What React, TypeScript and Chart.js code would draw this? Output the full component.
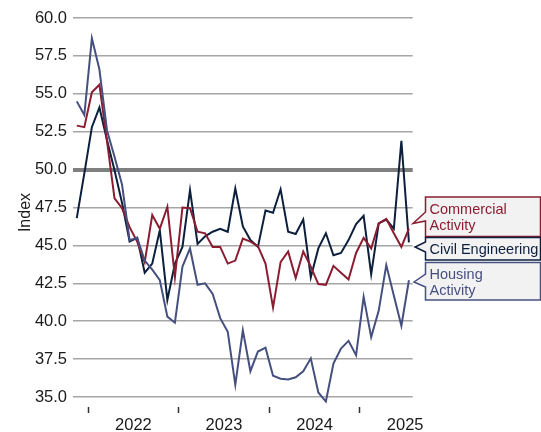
import React, { useEffect, useRef } from 'react';
import { Chart, registerables } from 'chart.js';

Chart.register(...registerables);

// Monthly observations, Nov 2021 .. Jul 2025
const firstMonthOffset = -1.5; // mid-Nov 2021, in months from 1 Jan 2022

const commercial = [
  52.9, 52.8, 55.1, 55.6, 51.9, 48.1, 47.45, 46.2, 45.25, 43.9, 47.0, 46.1,
  47.55, 42.9, 47.5, 47.45, 45.9, 45.8, 44.9, 44.9, 43.8, 44.0, 45.45, 45.25,
  44.95, 43.8, 40.9, 43.9, 44.6, 42.85, 44.6, 43.6, 42.45, 42.4, 43.65, 43.2,
  42.75, 44.5, 45.5, 44.8, 46.45, 46.75, 45.8, 44.9, 46.1,
];

const civil = [
  46.8, 49.75, 52.8, 54.1, 51.95, 49.95, 47.8, 45.25, 45.5, 43.2, 43.8, 46.0,
  41.4, 43.8, 44.9, 48.65, 45.1, 45.6, 45.9, 46.1, 45.9, 48.75, 46.25, 45.35,
  44.9, 47.3, 47.15, 48.7, 45.9, 45.75, 46.7, 42.9, 44.8, 45.8, 44.35, 44.5,
  45.35, 46.4, 46.95, 43.1, 46.45, 46.7, 46.1, 51.9, 45.2,
];

const housing = [
  54.5, 53.6, 58.66, 56.6, 52.6, 50.85, 49.0, 45.35, 45.5, 44.0, 43.4, 42.7,
  40.3, 39.9, 43.6, 44.8, 42.4, 42.5, 41.8, 40.2, 39.3, 35.8, 39.4, 36.7,
  38.0, 38.25, 36.4, 36.2, 36.15, 36.3, 36.7, 37.55, 35.3, 34.7, 37.2, 38.2,
  38.7, 37.75, 41.6, 38.95, 40.7, 43.7, 41.7, 39.7, 42.7,
];

const yearLabels = ['2022', '2023', '2024', '2025'];
const yTickValues = [35, 37.5, 40, 42.5, 45, 47.5, 50, 52.5, 55, 57.5, 60];

const seriesNames = ['Commercial Activity', 'Civil Engineering', 'Housing Activity'];
const seriesColors = ['#8b1c31', '#0c1f3d', '#46507f'];

const FONT = "'Liberation Sans', Arial, Helvetica, sans-serif";

const toPoints = (arr: number[]) =>
  arr.map((v, i) => ({ x: i + firstMonthOffset, y: v }));

const boundaryTicks = yearLabels.map((_, k) => k * 12);
const labelTicks = yearLabels.map((_, k) => k * 12 + 6);

// callout label boxes (layout only)
const callouts = [
  { lines: ['Commercial', 'Activity'], color: seriesColors[0], x0: 425.5, x1: 540.5, y0: 197, y1: 236.5, n1: 212, n2: 221, tx: 413, ty: 223.5, textY: [209.5, 225.5] },
  { lines: ['Civil Engineering'], color: seriesColors[1], x0: 425.5, x1: 540.5, y0: 237.5, y1: 260, n1: 242, n2: 252, tx: 415, ty: 247, textY: [249.5] },
  { lines: ['Housing', 'Activity'], color: seriesColors[2], x0: 425.5, x1: 540.5, y0: 262.5, y1: 300, n1: 274, n2: 287, tx: 414, ty: 282, textY: [274.5, 290.5] },
];

const calloutPlugin = {
  id: 'callouts',
  afterDraw(chart: any) {
    const ctx = chart.ctx as CanvasRenderingContext2D;
    callouts.forEach((c) => {
      ctx.save();
      ctx.beginPath();
      ctx.moveTo(c.x0, c.y0);
      ctx.lineTo(c.x1, c.y0);
      ctx.lineTo(c.x1, c.y1);
      ctx.lineTo(c.x0, c.y1);
      ctx.lineTo(c.x0, c.n2);
      ctx.lineTo(c.tx, c.ty);
      ctx.lineTo(c.x0, c.n1);
      ctx.closePath();
      ctx.fillStyle = '#f2f2f3';
      ctx.fill();
      ctx.strokeStyle = c.color;
      ctx.lineWidth = 1.5;
      ctx.stroke();
      ctx.fillStyle = c.color;
      ctx.font = `14.5px ${FONT}`;
      ctx.textAlign = 'left';
      ctx.textBaseline = 'middle';
      c.lines.forEach((t, i) => ctx.fillText(t, 429.5, c.textY[i]));
      ctx.restore();
    });
  },
};

export default function App() {
  const ref = useRef<HTMLCanvasElement>(null);

  useEffect(() => {
    document.body.style.margin = '0';
    const datasets = [commercial, civil, housing].map((arr, i) => ({
      label: seriesNames[i],
      data: toPoints(arr),
      borderColor: seriesColors[i],
      backgroundColor: seriesColors[i],
      borderWidth: 2,
      pointRadius: 0,
      tension: 0,
      fill: false,
    }));
    // draw order: housing, commercial, civil on top
    const ordered = [datasets[2], datasets[0], datasets[1]];

    const chart = new Chart(ref.current as HTMLCanvasElement, {
      type: 'line',
      data: { datasets: ordered },
      options: {
        animation: false,
        responsive: false,
        maintainAspectRatio: false,
        layout: { padding: { top: 18, right: 128.3, left: 0, bottom: 0 } },
        plugins: { legend: { display: false }, tooltip: { enabled: false } },
        scales: {
          x: {
            type: 'linear',
            min: -2,
            max: 43,
            afterBuildTicks: (s: any) => {
              s.ticks = [...boundaryTicks, ...labelTicks]
                .sort((a, b) => a - b)
                .map((v) => ({ value: v }));
            },
            afterFit: (s: any) => {
              s.height = 25;
            },
            border: { display: false },
            grid: {
              drawOnChartArea: false,
              drawTicks: true,
              tickLength: 6,
              tickWidth: 1.5,
              tickColor: (ctx: any) =>
                ctx.tick && ctx.tick.value % 12 === 0 ? '#333333' : 'rgba(0,0,0,0)',
            },
            ticks: {
              autoSkip: false,
              maxRotation: 0,
              minRotation: 0,
              padding: 3,
              color: '#1a1a1a',
              font: { family: FONT, size: 16.5 },
              callback: (v: any) => {
                const k = labelTicks.indexOf(Number(v));
                return k >= 0 ? yearLabels[k] : '';
              },
            },
          },
          y: {
            min: 34.34,
            max: 60,
            afterBuildTicks: (s: any) => {
              s.ticks = yTickValues.map((v) => ({ value: v }));
            },
            afterFit: (s: any) => {
              s.width = 73;
            },
            border: { display: false },
            grid: {
              drawTicks: false,
              color: (ctx: any) => (ctx.tick && ctx.tick.value === 50 ? '#808080' : '#a6a6a6'),
              lineWidth: (ctx: any) => (ctx.tick && ctx.tick.value === 50 ? 4 : 1.5),
            },
            ticks: {
              padding: 6,
              color: '#1a1a1a',
              font: { family: FONT, size: 16.5 },
              callback: (v: any) => Number(v).toFixed(1),
            },
            title: {
              display: true,
              text: 'Index',
              color: '#1a1a1a',
              font: { family: FONT, size: 16 },
              padding: { top: 16, bottom: 0 },
            },
          },
        },
      },
      plugins: [calloutPlugin],
    } as any);
    return () => chart.destroy();
  }, []);

  return (
    <div style={{ width: 541, height: 432 }}>
      <canvas
        ref={ref}
        width={541}
        height={432}
        style={{ display: 'block', width: '541px', height: '432px' }}
      />
    </div>
  );
}
